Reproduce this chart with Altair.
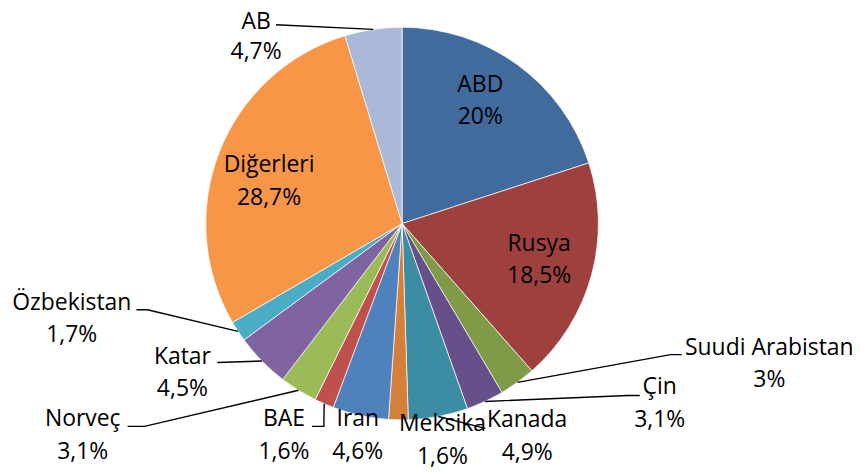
import altair as alt
import pandas as pd
import numpy as np

# ---- data ----
countries = ["ABD", "Rusya", "Suudi Arabistan", "Çin", "Kanada", "Meksika", "Iran",
             "BAE", "Norveç", "Katar", "Özbekistan", "Diğerleri", "AB"]
shares = [20, 18.5, 3, 3.1, 4.9, 1.6, 4.6, 1.6, 3.1, 4.5, 1.7, 28.7, 4.7]
pct_labels = ["20%", "18,5%", "3%", "3,1%", "4,9%", "1,6%", "4,6%",
              "1,6%", "3,1%", "4,5%", "1,7%", "28,7%", "4,7%"]

# ---- styles ----
colors = ["#416B9C", "#9E413E", "#7F9B48", "#67508A", "#3C8DA3", "#D47F3A", "#4F81BD",
          "#C0504D", "#9BBB59", "#8064A2", "#4BACC6", "#F79646", "#AAB9D8"]

# ---- layout (page pixels) ----
W, H = 846, 457
CX, CY, R = 395.5, 215.5, 197   # pie centre / radius in chart pixels
M = 8                            # page margin
# centre of the name line and of the percentage line for each label
label_xy = [(482, 84), (541, 244), (772, 348), (662, 388), (529, 421), (444, 425), (359, 420),
            (285, 420), (83, 420), (183, 357), (72, 303), (270, 165), (257, 21)]
pct_y = [116.5, 276.5, 380.5, 420.5, 453.5, 457.5, 452.5,
         452.5, 452.5, 389.5, 335.5, 197.5, 51]
# leader line points after the slice edge (page pixels)
leader_pts = {
    "Suudi Arabistan": [(673, 355), (684, 355)],
    "Çin": [(630, 396), (642, 396)],
    "Kanada": [(487, 429)],
    "BAE": [(325, 427), (313, 427)],
    "Norveç": [(145, 427), (128, 427)],
    "Katar": [(218, 363)],
    "Özbekistan": [(148, 310), (137, 310)],
    "AB": [(277, 24)],
}


def to_units(px, py):
    return (px - M - CX) / R, (CY - (py - M)) / R


df = pd.DataFrame({"country": countries, "share": shares, "pct": pct_labels,
                   "idx": list(range(len(countries)))})

lab = []
for c, p, (px, py), py2 in zip(countries, pct_labels, label_xy, pct_y):
    ux, uy = to_units(px, py)
    _, uy2 = to_units(px, py2)
    lab.append({"country": c, "pct": p, "x": ux, "y": uy, "y2": uy2})
lab = pd.DataFrame(lab)

cum = np.cumsum([0] + shares[:-1])
total = sum(shares)
rows = []
for c, v, s in zip(countries, shares, cum):
    if c not in leader_pts:
        continue
    a = 2 * np.pi * (s + v / 2) / total
    rows.append({"country": c, "seq": 0, "x": np.sin(a), "y": np.cos(a)})
    for k, (px, py) in enumerate(leader_pts[c], start=1):
        ux, uy = to_units(px, py)
        rows.append({"country": c, "seq": k, "x": ux, "y": uy})
lead = pd.DataFrame(rows)

xs = alt.Scale(domain=[-CX / R, (W - CX) / R], nice=False, zero=False)
ys = alt.Scale(domain=[-(H - CY) / R, CY / R], nice=False, zero=False)

pie = alt.Chart(df).mark_arc(outerRadius=R, stroke="#ffffff", strokeWidth=0.7).encode(
    theta=alt.Theta("share:Q", stack=True),
    color=alt.Color("country:N", scale=alt.Scale(domain=countries, range=colors), legend=None),
    order=alt.Order("idx:Q"),
    x=alt.value(CX),
    y=alt.value(CY),
)

lines = alt.Chart(lead).mark_line(color="black", strokeWidth=1.4).encode(
    x=alt.X("x:Q", scale=xs, axis=None),
    y=alt.Y("y:Q", scale=ys, axis=None),
    detail="country:N",
    order="seq:Q",
)

txt_style = dict(font="Open Sans", fontSize=23, color="black", align="center", baseline="middle")
names = alt.Chart(lab).mark_text(**txt_style).encode(
    x=alt.X("x:Q", scale=xs, axis=None),
    y=alt.Y("y:Q", scale=ys, axis=None),
    text="country:N",
)
pcts = alt.Chart(lab).mark_text(**txt_style).encode(
    x=alt.X("x:Q", scale=xs, axis=None),
    y=alt.Y("y2:Q", scale=ys, axis=None),
    text="pct:N",
)

chart = alt.layer(pie, lines, names, pcts).properties(
    width=W, height=H, padding=0, background="white"
).configure_view(stroke=None)

chart.save("out.html", embed_options={"renderer": "svg", "actions": False})
